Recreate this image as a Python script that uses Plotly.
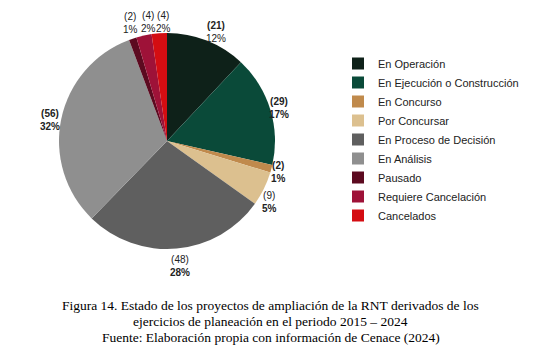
import math
import plotly.graph_objects as go

categories = ["En Operación", "En Ejecución o Construcción", "En Concurso", "Por Concursar",
              "En Proceso de Decisión", "En Análisis", "Pausado", "Requiere Cancelación", "Cancelados"]
values = [21, 29, 2, 9, 48, 56, 2, 4, 4]
percent_labels = ["12%", "17%", "1%", "5%", "28%", "32%", "1%", "2%", "2%"]
colors = ["#0e2119", "#0a4a39", "#c08a4c", "#dcc08f", "#5f5f5f", "#8f8f8f", "#5c0a20", "#9e1238", "#d40d12"]

W, H = 541, 360
CX, CY, R = 167, 141, 108
LABEL_R = 120
# per-label pixel nudges (layout only)
nudge = [(5, 3), (-3, 2), (-4, 0), (-5, 8), (2, 5), (0, 4), (2, -4), (7, -2), (5, 1)]
bold_count = [True, True, True, False, False, True, False, False, False]
bold_pct = [False, True, True, True, True, True, False, False, False]

fig = go.Figure(go.Pie(
    labels=categories, values=values,
    textinfo="none",
    sort=False, direction="clockwise", rotation=0,
    marker=dict(colors=colors, line=dict(width=0)),
    domain=dict(x=[(CX - R) / W, (CX + R) / W], y=[1 - (CY + R) / H, 1 - (CY - R) / H]),
    hoverinfo="label+value",
))

total = sum(values)
cum = 0
for i, v in enumerate(values):
    mid = (cum + v / 2) / total * 2 * math.pi
    cum += v
    px = CX + LABEL_R * math.sin(mid) + nudge[i][0]
    py = CY - LABEL_R * math.cos(mid) + nudge[i][1]
    c = f"({v})"
    p = percent_labels[i]
    c = f"<b>{c}</b>" if bold_count[i] else c
    p = f"<b>{p}</b>" if bold_pct[i] else p
    fig.add_annotation(text=f"{c}<br>{p}", x=px / W, y=1 - py / H, xref="paper", yref="paper",
                       xanchor="center", yanchor="middle", showarrow=False, align="center",
                       font=dict(family="Arial, Liberation Sans", size=10, color="#222222"))

caption_lines = [
    "Figura 14. Estado de los proyectos de ampliación de la RNT derivados de los",
    "ejercicios de planeación en el periodo 2015 – 2024",
    "Fuente: Elaboración propia con información de Cenace (2024)",
]
for line, yy in zip(caption_lines, [305, 321, 337]):
    fig.add_annotation(text=line, x=0.5, y=1 - yy / H, xref="paper", yref="paper",
                       xanchor="center", yanchor="middle", showarrow=False,
                       font=dict(family="Liberation Serif, Times New Roman", size=13.5, color="#000000"))

fig.update_layout(
    width=W, height=H,
    margin=dict(l=0, r=0, t=0, b=0),
    paper_bgcolor="white", plot_bgcolor="white",
    showlegend=True,
    legend=dict(x=338 / W, y=1 - 49 / H, xanchor="left", yanchor="top",
                itemwidth=30,
                font=dict(family="Arial, Liberation Sans", size=11, color="#222222"),
                bgcolor="rgba(0,0,0,0)"),
)

fig.write_html("out.html", config={"displayModeBar": False},
               post_script="document.body.style.margin='0';")
